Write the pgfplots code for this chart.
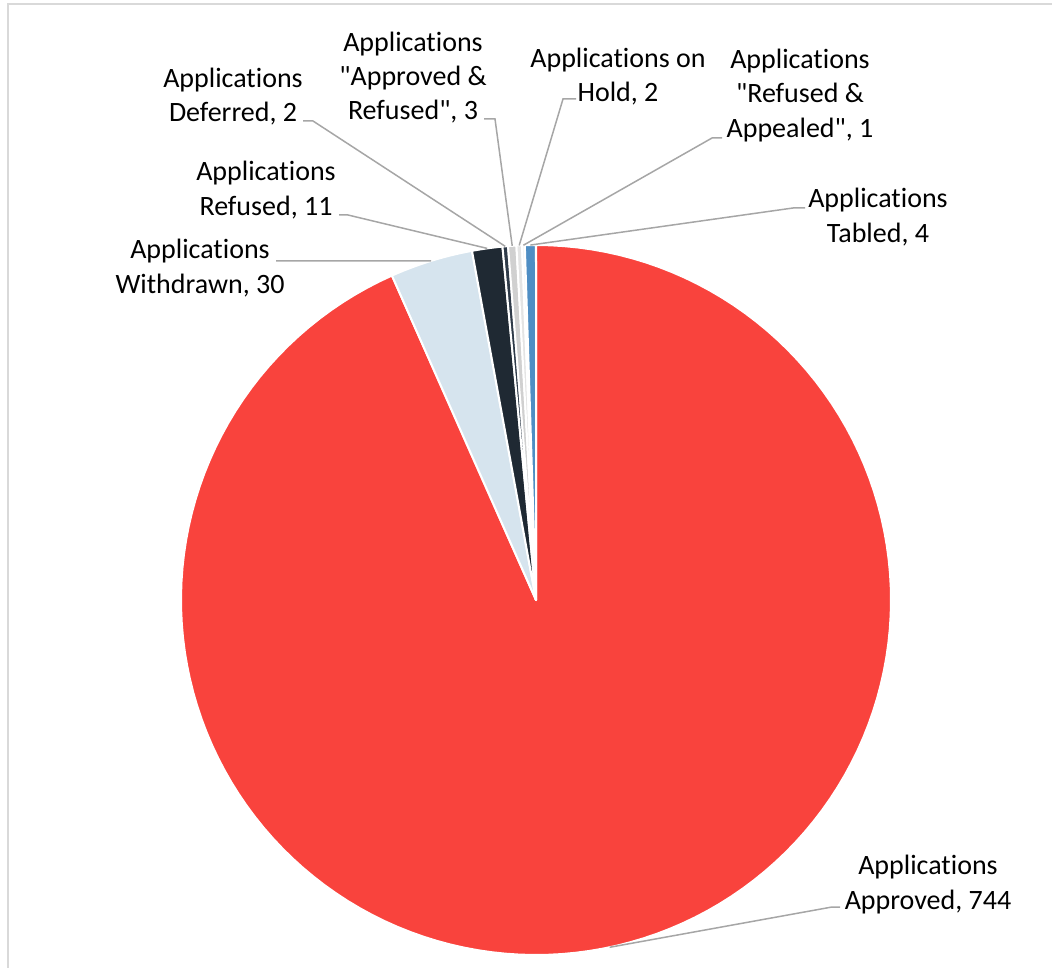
\documentclass[border=0pt]{standalone}
\usepackage{pgfplots}
\pgfplotsset{compat=1.18}
\usepackage{pgfplotstable}
\usepackage{fontspec}
\setmainfont{Carlito}[Ligatures={NoCommon,NoRare,NoContextual}, Contextuals={NoAlternate}]

\definecolor{cApproved}{HTML}{F9433D}
\definecolor{cWithdrawn}{HTML}{D6E4EE}
\definecolor{cRefused}{HTML}{1F2933}
\definecolor{cDeferred}{HTML}{2E3A48}
\definecolor{cAppRef}{HTML}{D0D0D0}
\definecolor{cHold}{HTML}{E4E4E4}
\definecolor{cRefApp}{HTML}{F2F2F2}
\definecolor{cTabled}{HTML}{4F8EC4}
\definecolor{cLeader}{HTML}{A6A6A6}
\definecolor{cBorder}{HTML}{D9D9D9}

\pgfplotstableread{
name value
Approved 744
Withdrawn 30
Refused 11
Deferred 2
ApprovedRefused 3
OnHold 2
RefusedAppealed 1
Tabled 4
}\pietable

\tikzset{
  lbl/.style={anchor=base, font=\fontsize{28}{34}\selectfont, text=black, inner sep=0pt},
  leader/.style={draw=cLeader, line width=1.5pt},
}

\newcommand\slice[2]{%
  \addplot[fill=#2, draw=white, line width=2pt, line join=round,
    domain=\csname sa#1\endcsname:\csname sb#1\endcsname, samples=150, variable=\t]
    ({536+355*sin(\t)},{600-355*cos(\t)}) -- (axis cs:536,600) -- cycle;
}
\newcommand\edgept[1]{(axis cs:{536+355*sin(\csname sm#1\endcsname)},{600-355*cos(\csname sm#1\endcsname)})}

\begin{document}
\begin{tikzpicture}
\pgfmathsetmacro\total{0}
\pgfplotsforeachungrouped \i in {0,...,7}{%
  \pgfplotstablegetelem{\i}{value}\of\pietable
  \pgfmathsetmacro\total{\total+\pgfplotsretval}%
}
\def\cum{0}
\pgfplotsforeachungrouped \i in {0,...,7}{%
  \pgfplotstablegetelem{\i}{value}\of\pietable
  \pgfmathsetmacro\sa{\cum/\total*360}%
  \pgfmathsetmacro\cum{\cum+\pgfplotsretval}%
  \pgfmathsetmacro\sb{\cum/\total*360}%
  \pgfmathsetmacro\sm{(\sa+\sb)/2}%
  \expandafter\xdef\csname sa\i\endcsname{\sa}%
  \expandafter\xdef\csname sb\i\endcsname{\sb}%
  \expandafter\xdef\csname sm\i\endcsname{\sm}%
}
\begin{axis}[
  width=1052pt, height=968pt, scale only axis,
  xmin=0, xmax=1052, ymin=0, ymax=968, y dir=reverse,
  hide axis, clip=false,
]
\slice{0}{cApproved}
\slice{1}{cWithdrawn}
\slice{2}{cRefused}
\slice{3}{cDeferred}
\slice{4}{cAppRef}
\slice{5}{cHold}
\slice{6}{cRefApp}
\slice{7}{cTabled}

% chart border
\draw[cBorder, line width=2.5pt] (axis cs:8,968) -- (axis cs:8,4) -- (axis cs:1052,4);

% leader lines
\draw[leader] (axis cs:840,907) -- (axis cs:832,907) -- \edgept{0};
\draw[leader] (axis cs:276,261) -- (axis cs:286,261) -- \edgept{1};
\draw[leader] (axis cs:339,215) -- (axis cs:348,215) -- \edgept{2};
\draw[leader] (axis cs:303,121) -- (axis cs:313,121) -- \edgept{3};
\draw[leader] (axis cs:484,119) -- (axis cs:495,119) -- \edgept{4};
\draw[leader] (axis cs:576,99) -- (axis cs:563,99) -- \edgept{5};
\draw[leader] (axis cs:722,138) -- (axis cs:712,138) -- \edgept{6};
\draw[leader] (axis cs:805,208) -- (axis cs:793,208) -- \edgept{7};

% labels
\node[lbl] at (axis cs:928,874) {Applications};
\node[lbl] at (axis cs:928,909) {Approved, 744};
\node[lbl] at (axis cs:200,259) {Applications};
\node[lbl] at (axis cs:200,294) {Withdrawn, 30};
\node[lbl] at (axis cs:266,181) {Applications};
\node[lbl] at (axis cs:266,216) {Refused, 11};
\node[lbl] at (axis cs:233,88) {Applications};
\node[lbl] at (axis cs:233,122) {Deferred, 2};
\node[lbl] at (axis cs:413,52) {Applications};
\node[lbl] at (axis cs:413,86) {\textquotedbl Approved \&};
\node[lbl] at (axis cs:413,120) {Refused\textquotedbl, 3};
\node[lbl] at (axis cs:618,68) {Applications on};
\node[lbl] at (axis cs:618,102) {Hold, 2};
\node[lbl] at (axis cs:800,69) {Applications};
\node[lbl] at (axis cs:800,103) {\textquotedbl Refused \&};
\node[lbl] at (axis cs:800,138) {Appealed\textquotedbl, 1};
\node[lbl] at (axis cs:878,208) {Applications};
\node[lbl] at (axis cs:878,243) {Tabled, 4};
\end{axis}
\pgfresetboundingbox
\useasboundingbox (0,0) rectangle (1052pt,968pt);
\end{tikzpicture}
\end{document}
